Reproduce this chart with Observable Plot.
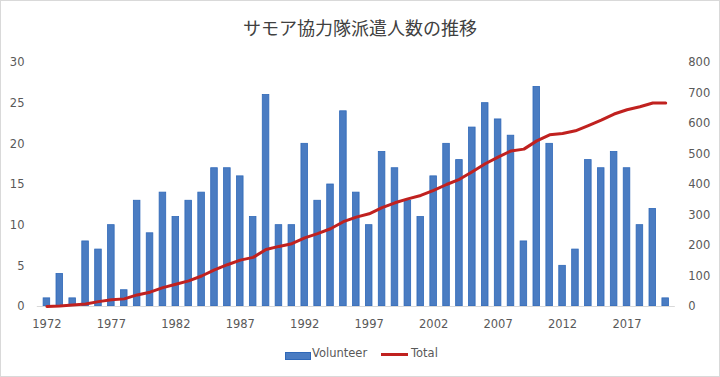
<!DOCTYPE html>
<html>
<head>
<meta charset="utf-8">
<script src="https://cdn.jsdelivr.net/npm/d3@7"></script>
<script src="https://cdn.jsdelivr.net/npm/@observablehq/plot@0.6"></script>
<style>
  html, body { margin: 0; padding: 0; background: #fff; }
  #wrap { position: relative; width: 720px; height: 377px; overflow: hidden; background: #fff; }
  #frame { position: absolute; left: 0; top: 0; width: 720px; height: 377px; box-sizing: border-box; border: 1px solid #d9d9d9; pointer-events: none; }
  #title { position: absolute; left: 0; top: 14px; width: 720px; height: 26px; line-height: 26px; text-align: center;
           font-family: "Noto Sans CJK JP", sans-serif; font-size: 18px; color: #404040; }
  #chart { position: absolute; left: 0; top: 0; }
  .lg { position: absolute; font-family: "DejaVu Sans", sans-serif; font-size: 11.5px; color: #595959; line-height: 14px; }
</style>
</head>
<body>
<div id="wrap">
  <div id="chart"></div>
  <div id="title">サモア協力隊派遣人数の推移</div>
  <div style="position:absolute;left:285px;top:352px;width:24px;height:6px;background:#4a7cc2;border:0.5px solid #2f68b8;"></div>
  <div class="lg" style="left:312px;top:346px;">Volunteer</div>
  <div style="position:absolute;left:381px;top:353px;width:27px;height:3px;background:#c0211f;"></div>
  <div class="lg" style="left:411px;top:346px;">Total</div>
  <div id="frame"></div>
</div>
<script>
const years = d3.range(1972, 2021);
const volunteers = [1,4,1,8,7,10,2,13,9,14,11,13,14,17,17,16,11,26,10,10,20,13,15,24,14,10,19,17,13,11,16,20,18,22,25,23,21,8,27,20,5,7,18,17,19,17,10,12,1];
const totals = [0,2,5,8,16,22,25,38,47,62,73,84,100,120,137,152,161,187,197,206,225,239,255,278,293,304,324,340,353,364,381,400,417,442,468,490,510,516,543,563,567,576,593,611,631,645,655,667,667];
const leftTicks = [0,5,10,15,20,25,30];
const rightTicks = [0,100,200,300,400,500,600,700,800];
const xTicks = [1972,1977,1982,1987,1992,1997,2002,2007,2012,2017];
const leftMax = 30, rightMax = 800;

const data = years.map((y, i) => ({year: y, vol: volunteers[i], total: totals[i], totalScaled: totals[i] / rightMax * leftMax}));

const font = "DejaVu Sans, sans-serif";
const chart = Plot.plot({
  width: 720,
  height: 377,
  marginLeft: 36.8,
  marginRight: 45.2,
  marginTop: 62,
  marginBottom: 71,
  style: {fontFamily: font, fontSize: "11.5px", color: "#595959", background: "transparent"},
  x: {type: "band", domain: years, padding: 0.49, align: 0.5},
  y: {domain: [0, leftMax]},
  marks: [
    Plot.barY(data, {x: "year", y: "vol", fill: "#4a7cc2", stroke: "#2f68b8", strokeWidth: 0.8}),
    Plot.ruleY([0], {stroke: "#d9d9d9", strokeWidth: 1}),
    Plot.line(data, {x: "year", y: "totalScaled", stroke: "#c0211f", strokeWidth: 3, curve: "linear"}),
    Plot.axisX({ticks: xTicks, tickFormat: d => String(d), tickSize: 0, tickPadding: 13, label: null, fill: "#595959"}),
    Plot.axisY({ticks: leftTicks, tickFormat: d => String(d), tickSize: 0, tickPadding: 12.8, label: null, fill: "#595959"}),
    Plot.axisY({anchor: "right", ticks: rightTicks.map(t => t / rightMax * leftMax), tickFormat: d => String(Math.round(d * rightMax / leftMax)), tickSize: 0, tickPadding: 13, label: null, fill: "#595959"})
  ]
});
document.getElementById("chart").appendChild(chart);
</script>
</body>
</html>
